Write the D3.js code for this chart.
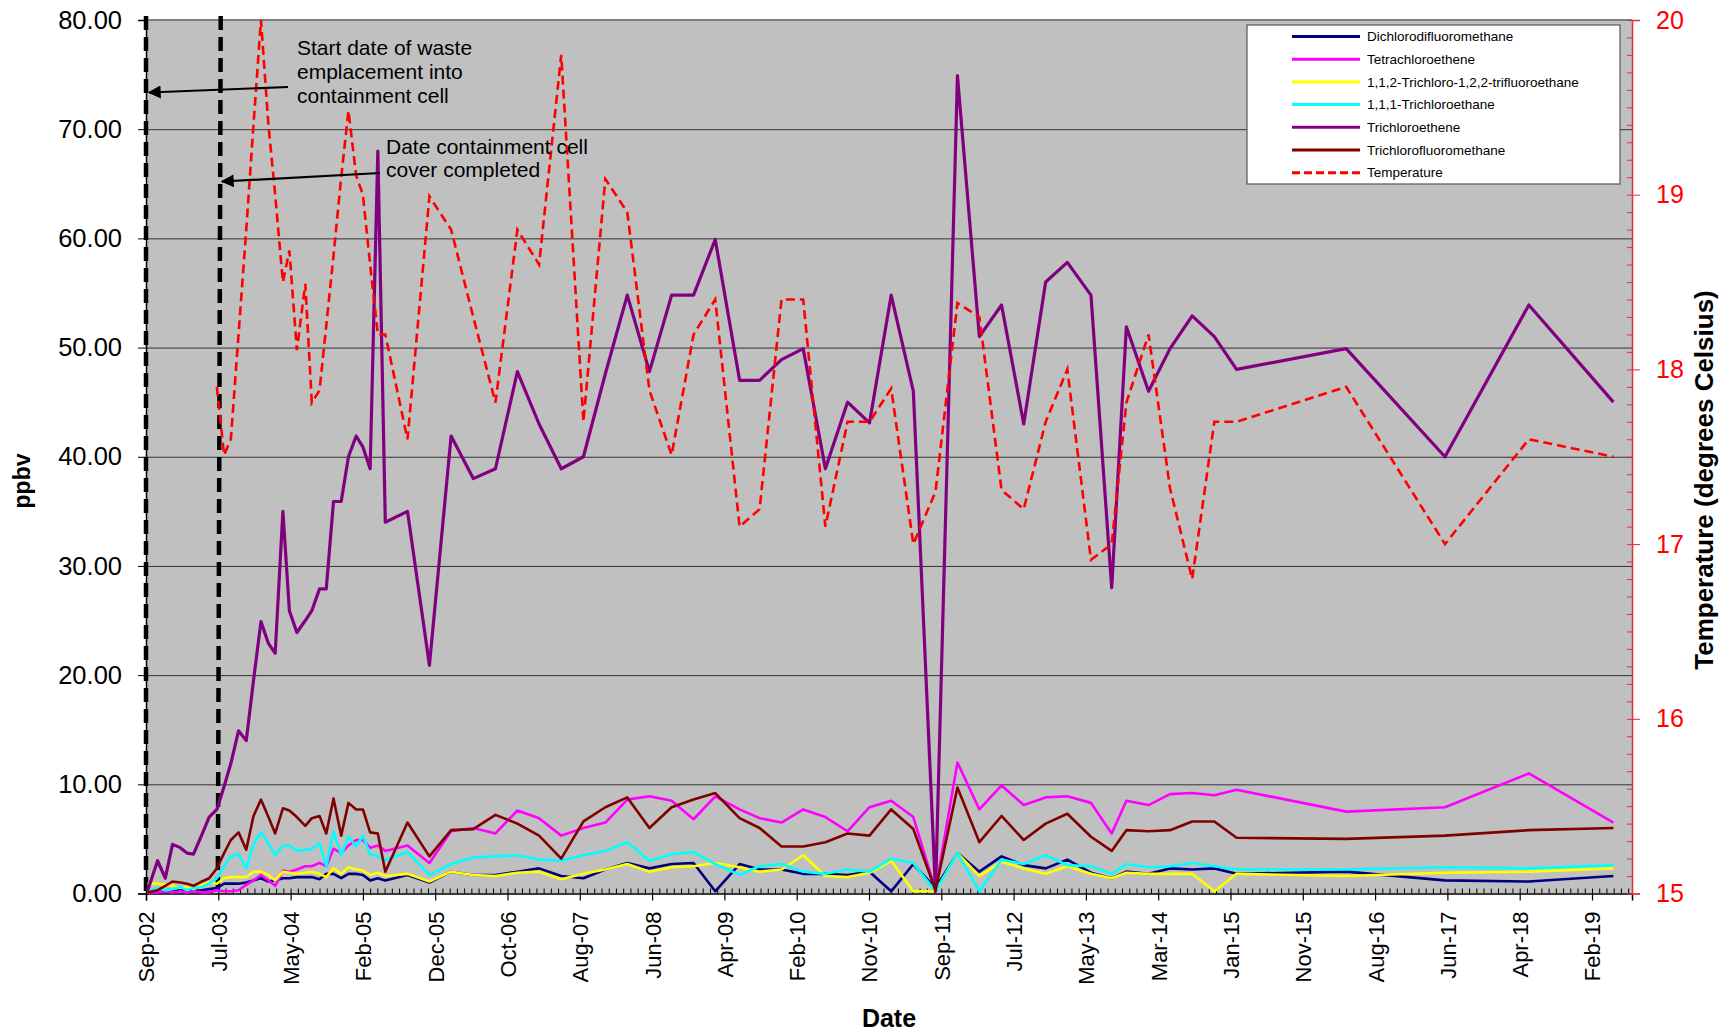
<!DOCTYPE html>
<html><head><meta charset="utf-8">
<script src="https://cdn.jsdelivr.net/npm/d3@7"></script>
<style>
html,body{margin:0;padding:0;background:#fff;}
svg{display:block;font-family:"Liberation Sans",Arial,sans-serif;}
</style></head><body>
<svg id="chart" width="1732" height="1034"></svg>
<script>
// ---------------- DATA ----------------
const sampleDates = [
"2002-09-18","2002-10-30","2002-12-01","2002-12-31","2003-02-01","2003-03-01","2003-03-28","2003-05-02","2003-06-01","2003-07-03",
"2003-08-02","2003-08-30","2003-10-01","2003-11-02","2003-12-02","2004-01-02","2004-02-02","2004-03-01","2004-04-02","2004-04-29",
"2004-05-30","2004-07-04","2004-07-31","2004-09-01","2004-09-29","2004-10-29","2004-11-30","2004-12-30","2005-01-31","2005-02-28",
"2005-03-30","2005-05-01","2005-06-01","2005-09-01","2005-12-01","2006-03-01","2006-06-01","2006-09-01","2006-12-01","2007-03-01",
"2007-06-01","2007-09-01","2007-12-01","2008-03-01","2008-06-01","2008-09-01","2008-12-01","2009-03-01","2009-06-10","2009-09-01",
"2009-12-01","2010-03-01","2010-06-01","2010-09-01","2010-12-01","2011-03-01","2011-06-01","2011-09-01","2011-12-01","2012-03-01",
"2012-06-01","2012-09-01","2012-12-01","2013-03-01","2013-06-07","2013-09-01","2013-11-01","2014-02-01","2014-05-01","2014-08-01",
"2014-11-01","2015-02-01","2016-05-01","2017-06-15","2018-05-29","2019-05-15"];

const dichlorodifluoromethane = [
0.1,0.1,0.2,0.2,0.3,0.2,0.2,0.3,0.4,0.5,
0.9,0.9,0.9,1.0,1.2,1.4,1.1,1.2,1.4,1.4,
1.5,1.5,1.5,1.3,1.8,1.8,1.4,1.8,1.8,1.7,
1.2,1.4,1.2,1.7,1.0,2.0,1.7,1.7,2.0,2.3,
1.6,1.4,2.2,2.8,2.3,2.7,2.8,0.2,2.7,2.2,
2.2,1.8,1.8,1.7,2.0,0.2,2.7,0.5,3.7,2.0,
3.4,2.6,2.3,3.1,1.9,1.4,2.0,1.8,2.3,2.2,
2.3,1.8,2.0,1.2,1.1,1.6];

const tetrachloroethene = [
0.1,0.1,0.2,0.1,0.2,0.1,0.2,0.1,0.1,0.3,
0.2,0.2,0.3,0.8,1.2,1.7,1.2,0.7,2.1,2.0,
2.2,2.5,2.5,2.8,2.5,4.1,3.7,4.4,4.9,4.9,
4.2,4.4,3.9,4.4,2.8,5.7,6.0,5.5,7.6,6.9,
5.3,6.0,6.5,8.6,8.9,8.5,6.8,8.9,7.7,6.9,
6.5,7.7,7.0,5.7,7.9,8.5,7.0,0.3,12.0,7.7,
9.9,8.1,8.8,8.9,8.3,5.5,8.5,8.1,9.1,9.2,
9.0,9.5,7.5,7.9,11.0,6.5];

const trichlorotrifluoroethane = [
0.9,0.9,0.8,0.7,0.5,0.6,0.4,0.8,1.0,0.9,
1.4,1.5,1.5,1.5,2.0,2.0,1.7,1.2,2.0,1.9,
1.8,1.9,2.0,1.8,1.5,2.3,1.8,2.4,2.2,2.1,
1.7,1.9,1.6,1.8,1.1,2.0,1.7,1.6,1.9,2.0,
1.3,1.8,2.2,2.7,2.0,2.4,2.5,2.8,2.4,2.0,
2.2,3.5,1.6,1.5,1.9,3.0,0.2,0.2,3.7,1.6,
2.9,2.3,1.8,2.5,1.8,1.4,1.9,1.8,1.8,1.8,
0.2,1.8,1.6,1.9,2.0,2.3];

const trichloroethane = [
0.2,0.5,0.3,0.4,0.6,0.3,0.5,0.6,0.9,1.4,
2.5,3.4,3.6,2.3,4.5,5.6,4.6,3.5,4.4,4.4,
3.9,4.0,4.1,4.6,2.5,5.7,3.5,5.2,4.3,5.3,
3.6,3.4,3.1,3.8,1.7,2.7,3.3,3.4,3.5,3.1,
3.0,3.5,3.9,4.7,3.0,3.6,3.8,2.7,1.7,2.5,
2.7,2.0,1.8,2.2,2.0,3.2,2.8,0.2,3.7,0.2,
3.1,2.7,3.5,2.6,2.5,1.8,2.7,2.4,2.5,2.8,
2.5,2.2,2.2,2.4,2.3,2.6];

const trichloroethene = [
0.2,3.0,1.4,4.5,4.2,3.7,3.6,5.4,7.0,7.7,
9.8,11.9,14.9,14.0,19.5,24.9,22.9,22.0,35.0,25.9,
23.9,25.0,25.9,27.9,27.9,35.9,35.9,40.0,41.9,40.9,
38.9,68.0,34.0,35.0,20.9,41.9,38.0,38.9,47.8,43.0,
38.9,40.0,47.6,54.8,47.8,54.8,54.8,59.9,47.0,47.0,
48.9,49.9,38.9,45.0,43.1,54.8,46.0,0.2,74.9,51.0,
53.9,43.0,56.0,57.8,54.8,28.0,51.9,46.0,49.9,52.9,
51.0,48.0,49.9,40.0,53.9,45.0];

const trichlorofluoromethane = [
0.1,0.3,0.7,1.1,1.0,0.9,0.7,1.1,1.4,2.3,
3.7,4.9,5.6,4.0,7.1,8.6,7.0,5.5,7.8,7.6,
7.0,6.2,6.9,7.1,5.5,8.7,5.3,8.3,7.7,7.7,
5.6,5.5,2.0,6.5,3.4,5.8,5.9,7.2,6.4,5.3,
3.2,6.6,7.9,8.8,6.0,7.9,8.6,9.2,6.9,6.0,
4.3,4.3,4.7,5.5,5.3,7.7,5.9,0.3,9.7,4.7,
7.1,4.9,6.4,7.3,5.2,3.9,5.8,5.7,5.8,6.6,
6.6,5.1,5.0,5.3,5.8,6.0];

const temperature = [
null,null,null,null,null,null,null,null,null,17.9,
17.51,17.6,18.2,18.8,19.4,20.0,19.4,19.0,18.5,18.68,
18.11,18.49,17.81,17.88,18.25,18.65,19.1,19.48,19.11,19.0,
18.6,18.2,18.2,17.6,18.99,18.8,18.3,17.81,18.8,18.6,
19.8,17.7,19.09,18.9,17.88,17.51,18.2,18.4,17.1,17.2,
18.4,18.4,17.1,17.7,17.7,17.89,17.0,17.3,18.38,18.3,
17.31,17.2,17.7,18.0,16.91,17.0,17.81,18.2,17.32,16.8,
17.7,17.7,17.9,17.0,17.6,17.5];

const seriesNames = ["Dichlorodifluoromethane","Tetrachloroethene","1,1,2-Trichloro-1,2,2-trifluoroethane",
  "1,1,1-Trichloroethane","Trichloroethene","Trichlorofluoromethane","Temperature"];
const seriesColors = ["#000080","#FF00FF","#FFFF00","#00FFFF","#800080","#800000","#FF0000"];

const leftTickValues = [0,10,20,30,40,50,60,70,80];
const rightTickValues = [15,16,17,18,19,20];
const axisStartDate = "2002-09-12";
const axisEndDate = "2019-07-31";
const xMajorStepDays = 300;
const xMinorStepDays = 30;
const eventLines = [
  {top:"2002-09-12", bottom:"2002-09-12"},
  {top:"2003-07-19", bottom:"2003-07-07"}
];
const annotationTexts = [
  ["Start date of waste","emplacement into","containment cell"],
  ["Date containment cell","cover completed"]
];

// ---------------- DRAWING ----------------
const parse = d3.timeParse("%Y-%m-%d");
const dates = sampleDates.map(parse);
const svg = d3.select("#chart");
const L = 146, R = 1632, T = 20, B = 893.5;
const FONT = '"Liberation Sans", Arial, sans-serif';

const x0 = parse(axisStartDate), x1 = parse(axisEndDate);
const x = d3.scaleTime().domain([x0, x1]).range([L, R]);
const yL = d3.scaleLinear().domain([0, 80]).range([B, T]);
const yR = d3.scaleLinear().domain([15, 20]).range([B, T]);

// plot background
svg.append("rect").attr("x", L).attr("y", T).attr("width", R - L).attr("height", B - T)
  .attr("fill", "#C0C0C0");

// gridlines
svg.append("g").attr("transform", `translate(${L},0)`)
  .call(d3.axisLeft(yL).tickValues(leftTickValues.slice(1)).tickSize(-(R - L)).tickFormat(""))
  .call(g => g.select(".domain").remove())
  .call(g => g.selectAll("line").attr("stroke", "#333").attr("stroke-width", 1));
svg.append("line").attr("x1", L).attr("x2", R).attr("y1", T).attr("y2", T)
  .attr("stroke", "#808080").attr("stroke-width", 2);

// x minor ticks
const minorTicks = d3.range(0, d3.timeDay.count(x0, x1) + 1, xMinorStepDays).map(d => d3.timeDay.offset(x0, d));
svg.append("g").attr("transform", `translate(0,${B})`)
  .call(d3.axisBottom(x).tickValues(minorTicks).tickSize(-5).tickFormat(""))
  .call(g => g.select(".domain").remove())
  .call(g => g.selectAll("line").attr("stroke", "#000").attr("stroke-width", 1));

// x major axis
const majorTicks = d3.range(0, 21).map(i => d3.timeDay.offset(x0, i * xMajorStepDays));
const fmt = d3.timeFormat("%b-%y");
svg.append("g").attr("transform", `translate(0,${B})`)
  .call(d3.axisBottom(x).tickValues(majorTicks).tickSize(7).tickFormat(fmt))
  .call(g => g.select(".domain").attr("stroke", "#000").attr("stroke-width", 1.5))
  .call(g => g.selectAll("line").attr("stroke", "#000").attr("stroke-width", 1.2))
  .call(g => g.selectAll("text")
    .attr("transform", "rotate(-90)")
    .attr("x", -18).attr("y", 0).attr("dy", "0.36em")
    .style("text-anchor", "end")
    .attr("font-size", 22)
    .attr("font-family", FONT)
    .attr("fill", "#000"));

// left axis
svg.append("g").attr("transform", `translate(${L},0)`)
  .call(d3.axisLeft(yL).tickValues(leftTickValues).tickSize(8).tickPadding(16).tickFormat(d3.format(".2f")))
  .call(g => g.select(".domain").attr("stroke", "#000").attr("stroke-width", 1.5))
  .call(g => g.selectAll("line").attr("stroke", "#000"))
  .call(g => g.selectAll("text").attr("font-size", 25.5).attr("fill", "#000")
    .attr("font-family", FONT));

// right axis minor ticks
svg.append("g").attr("transform", `translate(${R},0)`)
  .call(d3.axisRight(yR).tickValues(d3.range(150, 201).map(v => v / 10)).tickSize(-5).tickFormat(""))
  .call(g => g.select(".domain").remove())
  .call(g => g.selectAll("line").attr("stroke", "#E03030"));
// right axis
svg.append("g").attr("transform", `translate(${R},0)`)
  .call(d3.axisRight(yR).tickValues(rightTickValues).tickSize(8).tickPadding(16).tickFormat(d3.format("d")))
  .call(g => g.select(".domain").attr("stroke", "#E03030").attr("stroke-width", 1.5))
  .call(g => g.selectAll("line").attr("stroke", "#E03030"))
  .call(g => g.selectAll("text").attr("font-size", 25).attr("fill", "#FF0000")
    .attr("font-family", FONT));

// event lines (dashed black)
svg.append("g").selectAll("line").data(eventLines).join("line")
  .attr("x1", d => x(parse(d.top))).attr("y1", T - 4)
  .attr("x2", d => x(parse(d.bottom))).attr("y2", B)
  .attr("stroke", "#000").attr("stroke-width", 4.5).attr("stroke-dasharray", "14,7");

// series
const concSeries = [dichlorodifluoromethane, tetrachloroethene, trichlorotrifluoroethane,
  trichloroethane, trichloroethene, trichlorofluoromethane];
const lineL = d3.line().defined(d => d.v != null).x(d => x(d.date)).y(d => yL(d.v));
const lineR = d3.line().defined(d => d.v != null).x(d => x(d.date)).y(d => yR(d.v));
const gS = svg.append("g");
concSeries.forEach((vals, i) => {
  gS.append("path")
    .datum(vals.map((v, j) => ({date: dates[j], v})))
    .attr("d", lineL).attr("fill", "none")
    .attr("stroke", seriesColors[i])
    .attr("stroke-width", i === 4 ? 3.2 : 2.6)
    .attr("stroke-linejoin", "round");
});
gS.append("path")
  .datum(temperature.map((v, j) => ({date: dates[j], v})))
  .attr("d", lineR).attr("fill", "none")
  .attr("stroke", seriesColors[6]).attr("stroke-width", 2.6)
  .attr("stroke-dasharray", "9,5");

// annotations
const defs = svg.append("defs");
defs.append("marker").attr("id", "arr").attr("viewBox", "0 0 10 10")
  .attr("refX", 9).attr("refY", 5).attr("markerWidth", 16).attr("markerHeight", 13)
  .attr("markerUnits", "userSpaceOnUse").attr("orient", "auto")
  .append("path").attr("d", "M0,0 L10,5 L0,10 Z").attr("fill", "#000");

const ann = svg.append("g").attr("font-size", 21).attr("fill", "#000");
const a1 = ann.append("text").attr("x", 297).attr("y", 55);
annotationTexts[0].forEach((t, i) => a1.append("tspan").attr("x", 297).attr("dy", i ? 23.8 : 0).text(t));
const a2 = ann.append("text").attr("x", 386).attr("y", 154);
annotationTexts[1].forEach((t, i) => a2.append("tspan").attr("x", 386).attr("dy", i ? 23 : 0).text(t));
svg.append("line").attr("x1", 288).attr("y1", 87).attr("x2", x(parse(eventLines[0].top)) + 3).attr("y2", 92.5)
  .attr("stroke", "#000").attr("stroke-width", 2.2).attr("marker-end", "url(#arr)");
svg.append("line").attr("x1", 380).attr("y1", 173).attr("x2", 222).attr("y2", 181.5)
  .attr("stroke", "#000").attr("stroke-width", 2.2).attr("marker-end", "url(#arr)");

// axis titles
svg.append("text").attr("transform", "translate(30,481) rotate(-90)").attr("text-anchor", "middle")
  .attr("font-weight", "bold").attr("font-size", 23).text("ppbv");
svg.append("text").attr("x", (L + R) / 2).attr("y", 1027).attr("text-anchor", "middle")
  .attr("font-weight", "bold").attr("font-size", 25).text("Date");
svg.append("text").attr("transform", "translate(1713,480) rotate(-90)").attr("text-anchor", "middle")
  .attr("font-weight", "bold").attr("font-size", 26).text("Temperature (degrees Celsius)");

// legend
const lg = svg.append("g");
lg.append("rect").attr("x", 1247).attr("y", 25).attr("width", 373).attr("height", 159)
  .attr("fill", "#fff").attr("stroke", "#555").attr("stroke-width", 1.2);
seriesNames.forEach((name, i) => {
  const yy = 36.5 + i * 22.7;
  lg.append("line").attr("x1", 1292).attr("x2", 1360).attr("y1", yy).attr("y2", yy)
    .attr("stroke", seriesColors[i]).attr("stroke-width", 3)
    .attr("stroke-dasharray", i === 6 ? "8,4" : null);
  lg.append("text").attr("x", 1367).attr("y", yy + 4.7).attr("font-size", 13.5).text(name);
});
</script>
</body></html>
